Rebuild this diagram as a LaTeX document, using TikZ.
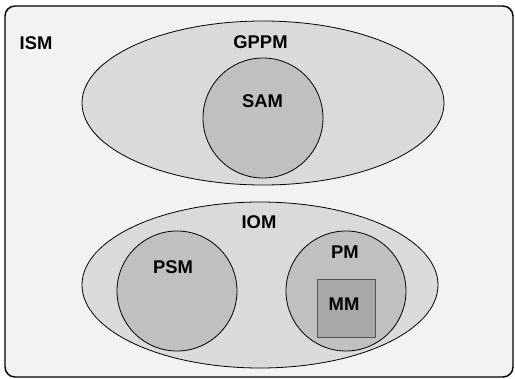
\documentclass[tikz,border=0pt]{standalone}
\usepackage{fontspec}
\setmainfont{Liberation Sans}
\definecolor{ismfill}{HTML}{F2F2F2}
\definecolor{ovalfill}{HTML}{DADADA}
\definecolor{ballfill}{HTML}{C0C0C0}
\definecolor{boxfill}{HTML}{A8A8A8}
\definecolor{boxline}{HTML}{555555}

\begin{document}
\begin{tikzpicture}[x=0.75pt,y=-0.75pt,line width=0.6pt,
  font=\bfseries\fontsize{13.8}{16}\selectfont,
  lbl/.style={inner sep=0pt}]

\useasboundingbox (0,0) rectangle (515,379);
\draw[rounded corners=7.5pt, line width=1.1pt, fill=ismfill] (5,6) rectangle (513,377);

\begin{scope}
\coordinate (gppmc) at (263,103);
\coordinate (samc) at (263,118);
\draw[fill=ovalfill] (gppmc) ellipse (181 and 82);
\draw[fill=ballfill] (samc) circle (60);
\end{scope}

\begin{scope}
\coordinate (iomc) at (260,285);
\coordinate (psmc) at (177,291);
\coordinate (pmc) at (346,291);
\draw[fill=ovalfill] (iomc) ellipse (178 and 83);
\draw[fill=ballfill] (psmc) circle (60);
\draw[fill=ballfill] (pmc) circle (60);
\draw[fill=boxfill, draw=boxline] (317,279) rectangle (375,337);
\end{scope}

\node[lbl] (ism) at (36,43) {ISM};
\node[lbl] (gppm) at (260.5,42.5) {GPPM};
\node[lbl] (sam) at (262.5,101) {SAM};
\node[lbl] (iom) at (259,222) {IOM};
\node[lbl] (psm) at (173,267.5) {PSM};
\node[lbl] (pm) at (345,252) {PM};
\node[lbl] (mm) at (344,304.5) {MM};

\end{tikzpicture}
\end{document}
